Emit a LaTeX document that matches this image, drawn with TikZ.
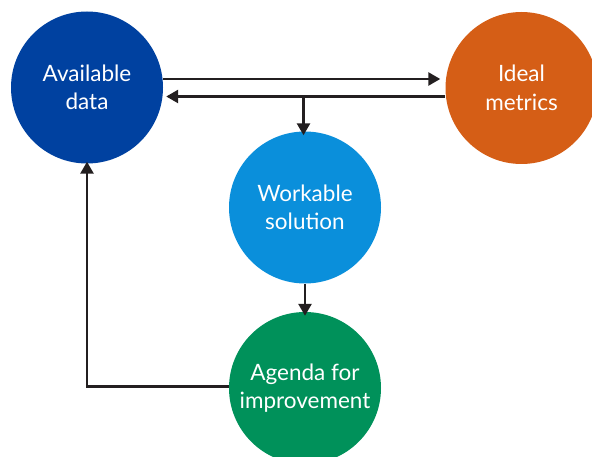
\documentclass[tikz,border=0pt]{standalone}
\usepackage{fontspec}
\setmainfont{Lato}
\usetikzlibrary{arrows.meta}
\definecolor{cdark}{HTML}{0041A0}
\definecolor{corange}{HTML}{D55E16}
\definecolor{clight}{HTML}{0A8FDB}
\definecolor{cgreen}{HTML}{00915A}
\definecolor{cline}{HTML}{231F20}
\begin{document}
\begin{tikzpicture}[x=1pt,y=-1pt,
  bubble/.style={circle,minimum size=152pt,inner sep=0pt,text=white,align=center,
    font=\fontsize{22.5}{28.5}\selectfont},
  conn/.style={draw=cline,line width=2.6pt,-{Triangle[length=12pt,width=13pt]}}]
\useasboundingbox (0,0) rectangle (592,457);
\clip (0,0) rectangle (592,457);
\node[bubble,fill=cdark] (avail) at (87,87.5) {Available\\data};
\node[bubble,fill=corange] (ideal) at (521.5,88) {Ideal\\metrics};
\node[bubble,fill=clight] (work) at (305,207.5) {Workable\\solution};
\node[bubble,fill=cgreen] (agenda) at (305,388) {Agenda for\\improvement};
\coordinate (j) at (303.5,96.5);
\coordinate (c) at (87,386.5);
\draw[conn] (avail.east |- 0,79) -- ([xshift=-5pt]ideal.west |- 0,79);
\draw[conn] (ideal.west |- 0,96.5) -- ([xshift=3pt]avail.east |- 0,96.5);
\draw[conn] (j) -- ([yshift=-4pt]work.north -| j);
\draw[conn] (work.south) -- ([yshift=-4pt]agenda.north);
\draw[conn] (agenda.west |- c) -- (c) -- ([yshift=2pt]avail.south);
\end{tikzpicture}
\end{document}
